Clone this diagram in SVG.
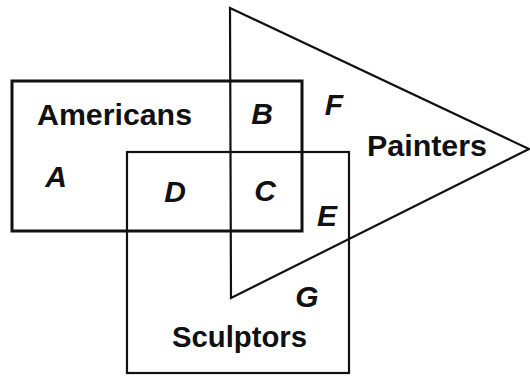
<svg xmlns="http://www.w3.org/2000/svg" width="530" height="376" viewBox="0 0 530 376">
<style>
.shape{fill:none;stroke:#111;stroke-linejoin:miter}
.title{font-family:"Liberation Sans",Arial,sans-serif;font-weight:bold;font-size:29px;fill:#111}
.reg{font-family:"Liberation Sans",Arial,sans-serif;font-weight:bold;font-style:italic;font-size:30px;fill:#111;text-anchor:middle}
</style>
<rect width="530" height="376" fill="#fff"/>
<g id="americans">
<rect class="shape" x="12" y="81" width="290" height="150" stroke-width="3"/>
<text class="title" x="37" y="125" textLength="155" lengthAdjust="spacingAndGlyphs">Americans</text>
</g>
<g id="painters">
<polygon class="shape" points="230,8 529,149 231,298" stroke-width="2.2"/>
<text class="title" x="367" y="156" textLength="120" lengthAdjust="spacingAndGlyphs">Painters</text>
</g>
<g id="sculptors">
<rect class="shape" x="127" y="152" width="222" height="221" stroke-width="2.2"/>
<text class="title" x="172" y="347" textLength="135" lengthAdjust="spacingAndGlyphs">Sculptors</text>
</g>
<g id="regions">
<text class="reg" x="56" y="187">A</text>
<text class="reg" x="262" y="124">B</text>
<text class="reg" x="265" y="201">C</text>
<text class="reg" x="175" y="202">D</text>
<text class="reg" x="327" y="226">E</text>
<text class="reg" x="334" y="115">F</text>
<text class="reg" x="307" y="307">G</text>
</g>
<g id="connectors"></g>
</svg>
